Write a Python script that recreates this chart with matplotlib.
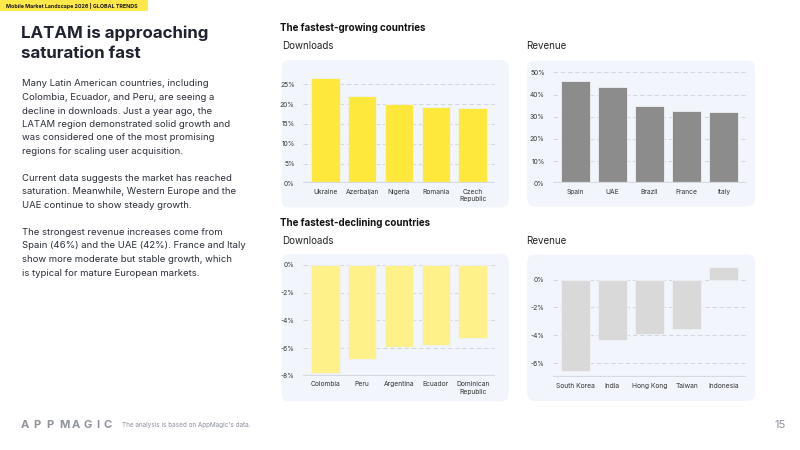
import matplotlib
matplotlib.use("Agg")
import matplotlib.pyplot as plt
from matplotlib.patches import FancyBboxPatch, Rectangle

plt.rcParams['font.family'] = ['Inter', 'DejaVu Sans']

# ---------------- data ----------------
grow_dl_countries = ["Ukraine", "Azerbaijan", "Nigeria", "Romania", "Czech\nRepublic"]
grow_dl_values = [26.7, 22.0, 19.9, 19.2, 18.9]

grow_rev_countries = ["Spain", "UAE", "Brazil", "France", "Italy"]
grow_rev_values = [45.9, 43.4, 35.0, 32.6, 32.1]

decl_dl_countries = ["Colombia", "Peru", "Argentina", "Ecuador", "Dominican\nRepublic"]
decl_dl_values = [-7.8, -6.8, -5.95, -5.75, -5.3]

decl_rev_countries = ["South Korea", "India", "Hong Kong", "Taiwan", "Indonesia"]
decl_rev_values = [-6.55, -4.35, -3.93, -3.52, 0.89]

grow_dl_ticks = [0, 5, 10, 15, 20, 25]
grow_rev_ticks = [0, 10, 20, 30, 40, 50]
decl_dl_ticks = [0, -2, -4, -6, -8]
decl_rev_ticks = [0, -2, -4, -6]

body_lines = [
    "Many Latin American countries, including",
    "Colombia, Ecuador, and Peru, are seeing a",
    "decline in downloads. Just a year ago, the",
    "LATAM region demonstrated solid growth and",
    "was considered one of the most promising",
    "regions for scaling user acquisition.",
    None,
    "Current data suggests the market has reached",
    "saturation. Meanwhile, Western Europe and the",
    "UAE continue to show steady growth.",
    None,
    "The strongest revenue increases come from",
    "Spain (46%) and the UAE (42%). France and Italy",
    "show more moderate but stable growth, which",
    "is typical for mature European markets.",
]

W, H = 800, 450
fig = plt.figure(figsize=(8, 4.5), dpi=100, facecolor="white")

# background canvas axes in pixel coordinates
bg = fig.add_axes([0, 0, 1, 1])
bg.set_xlim(0, W)
bg.set_ylim(H, 0)
bg.axis("off")
bg.set_zorder(0)

DARK = "#1f2330"
GREY_TXT = "#8a8f99"
PANEL = "#f2f6fc"

# header banner
bg.add_patch(Rectangle((0, 0), 148, 11, facecolor="#ffe94a", edgecolor="none"))
bg.text(5.5, 5.8, "Mobile Market Landscape 2026 | GLOBAL TRENDS", fontsize=3.85,
        fontweight="bold", color="#1a1a1a", va="center", ha="left")

# title
bg.text(21, 33, "LATAM is approaching", fontsize=12.2, fontweight="bold",
        color=DARK, va="center", ha="left")
bg.text(21, 53, "saturation fast", fontsize=12.2, fontweight="bold",
        color=DARK, va="center", ha="left")

# body text
y = 84
for line in body_lines:
    if line is None:
        y += 13.5
        continue
    bg.text(21.5, y, line, fontsize=6.85, color="#2a2e38", va="center", ha="left")
    y += 13.5

# section headings
bg.text(280, 27.7, "The fastest-growing countries", fontsize=7, fontweight="bold",
        color="#111111", va="center", ha="left")
bg.text(282, 45.7, "Downloads", fontsize=7, color="#222222", va="center", ha="left")
bg.text(526, 45.7, "Revenue", fontsize=7, color="#222222", va="center", ha="left")
bg.text(280, 223.3, "The fastest-declining countries", fontsize=7, fontweight="bold",
        color="#111111", va="center", ha="left")
bg.text(282, 240.7, "Downloads", fontsize=7, color="#222222", va="center", ha="left")
bg.text(526, 240.7, "Revenue", fontsize=7, color="#222222", va="center", ha="left")

# panels
for (x0, y0, x1, y1) in [(281.5, 60, 509, 207.5), (527, 60.5, 755, 206.5),
                         (281.5, 254, 509, 401.5), (527, 254.5, 755, 401)]:
    bg.add_patch(FancyBboxPatch((x0 + 8, y0 + 8), (x1 - x0) - 16, (y1 - y0) - 16,
                                boxstyle="round,pad=8", facecolor=PANEL,
                                edgecolor="none"))

# footer logo (letterspaced)
logo = "APPMAGIC"
lx = 21
for ch in logo:
    bg.text(lx, 425.5, ch, fontsize=8, fontweight="bold", color="#8d929b",
            va="center", ha="left")
    lx += 12.6 if ch != "I" else 6.5
bg.text(122, 425.5, "The analysis is based on AppMagic's data.", fontsize=4.6,
        color=GREY_TXT, va="center", ha="left")
bg.text(786, 425, "15", fontsize=8, color=GREY_TXT, va="center", ha="right")


def px_axes(x0, x1, ytop, ybot):
    return fig.add_axes([x0 / W, 1 - ybot / H, (x1 - x0) / W, (ybot - ytop) / H])


def style(ax, ticks, baseline, ylim):
    ax.set_facecolor("none")
    ax.set_zorder(2)
    ax.set_ylim(*ylim)
    ax.set_xlim(-0.6, 4.6)
    for s in ax.spines.values():
        s.set_visible(False)
    ax.set_yticks(ticks)
    ax.set_yticklabels([f"{t}%" for t in ticks])
    ax.tick_params(axis="both", length=0, labelsize=4.8, colors="#333333")
    ax.tick_params(axis="y", pad=6)
    ax.tick_params(axis="x", pad=4)
    for t in ticks:
        if t == baseline:
            continue
        ax.axhline(t, color="#d3d7de", lw=0.8, ls=(0, (4, 2.5)), zorder=0)
    ax.axhline(baseline, color="#d6dae0", lw=1.6, zorder=3)


def draw(ax, cats, vals, color):
    x = list(range(len(cats)))
    ax.bar(x, vals, width=0.78, color=color, edgecolor="#eef1f5", linewidth=0.6,
           zorder=2)
    ax.set_xticks(x)
    ax.set_xticklabels(cats, linespacing=1.3)


# top-left
ax1 = px_axes(303, 495, 74.4, 183.3)
draw(ax1, grow_dl_countries, grow_dl_values, "#ffe83c")
style(ax1, grow_dl_ticks, 0, (0, 27.5))

# top-right
ax2 = px_axes(553, 746, 67.9, 183.3)
draw(ax2, grow_rev_countries, grow_rev_values, "#8c8c8c")
style(ax2, grow_rev_ticks, 0, (0, 52))

# bottom-left
ax3 = px_axes(303, 495, 260.8, 375.7)
draw(ax3, decl_dl_countries, decl_dl_values, "#fff18a")
style(ax3, decl_dl_ticks, -8, (-8, 0.3))

# bottom-right
ax4 = px_axes(553, 746, 263.0, 377.0)
draw(ax4, decl_rev_countries, decl_rev_values, "#d9d9d9")
style(ax4, decl_rev_ticks, -7, (-7, 1.2))

fig.savefig("out.png", dpi=100, facecolor="white")
